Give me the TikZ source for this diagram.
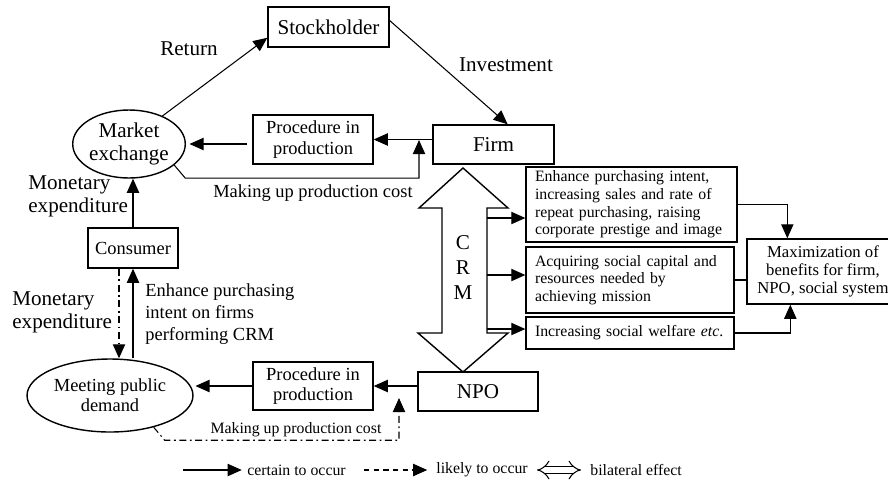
\documentclass[tikz,border=0pt]{standalone}
\usepackage{fontspec}
\setmainfont{Liberation Serif}
\usetikzlibrary{calc}
\usetikzlibrary{arrows.meta}
\usetikzlibrary{shapes.geometric}

\newcommand\fsbig{\fontsize{12}{13}\selectfont}
\newcommand\fsmid{\fontsize{10.5}{11.5}\selectfont}
\newcommand\fssmall{\fontsize{9}{10}\selectfont}

\tikzset{
  box/.style={draw, line width=0.8pt, inner sep=0pt, align=center},
  oval/.style={draw, ellipse, line width=0.8pt, inner sep=0pt, align=center},
  note/.style={draw, line width=0.8pt, inner xsep=0.18cm, inner ysep=0pt, align=left, font=\fssmall},
  lbl/.style={inner sep=0pt, align=left},
  flow/.style={line width=0.6pt, -{Triangle[length=8pt,width=7pt]}},
  likely/.style={flow, dash pattern=on 4pt off 2pt on 1pt off 2pt},
  bilat/.style={double, double distance=3.2pt, line width=0.6pt, {Implies}-{Implies}}
}

\begin{document}
\begin{tikzpicture}[x=0.02cm, y=-0.02cm, font=\fsbig]
  % Boundary
  \path[use as bounding box] (0,0) rectangle (888,481);
  % Nodes
  \node[box, minimum width=2.42cm, minimum height=0.80cm] (stock) at (328.5,27) {Stockholder};
  \node[oval, minimum width=2.24cm, minimum height=1.36cm] (market) at (129,144) {Market\\exchange};
  \node[box, minimum width=2.40cm, minimum height=0.98cm, font=\fsmid] (procA) at (313,139.5) {Procedure in\\production};
  \node[box, minimum width=2.42cm, minimum height=0.78cm] (firm) at (493.5,144.5) {Firm};
  \node[box, minimum width=1.80cm, minimum height=0.80cm, font=\fsmid] (consumer) at (133,248) {Consumer};
  \node[oval, minimum width=3.32cm, minimum height=1.46cm, font=\fsmid] (demand) at (110,395.5) {Meeting public\\demand};
  \node[box, minimum width=2.40cm, minimum height=0.96cm, font=\fsmid] (procB) at (313,386) {Procedure in\\production};
  \node[box, minimum width=2.40cm, minimum height=0.78cm] (npo) at (478,391.5) {NPO};
  % Effect boxes
  \node[note, text width=3.86cm, minimum height=1.50cm] (box1) at (631.5,204.5)
    {Enhance purchasing intent,\\increasing sales and rate of\\repeat purchasing, raising\\corporate prestige and image};
  \node[note, text width=3.80cm, minimum height=1.32cm] (box2) at (630,280)
    {Acquiring social capital and\\resources needed by\\achieving mission};
  \node[note, text width=3.80cm, minimum height=0.64cm] (box3) at (630,333)
    {Increasing social welfare \textit{etc}.};
  \node[box, minimum width=3.04cm, minimum height=1.30cm, font=\fontsize{9.5}{10.4}\selectfont] (maxb) at (823,271.5)
    {Maximization of\\benefits for firm,\\NPO, social system};
  % Labels
  \node[lbl] (ret) at (189,49) {Return};
  \node[lbl] (inv) at (506,65) {Investment};
  \node[lbl, anchor=west] (spendA) at (28,196) {Monetary\\expenditure};
  \node[lbl, anchor=west] (spendB) at (12,312) {Monetary\\expenditure};
  \node[lbl, anchor=west, font=\fontsize{10.5}{12.5}\selectfont] (enh) at (145,314) {Enhance purchasing\\intent on firms\\performing CRM};
  \node[lbl, font=\fsmid] (costA) at (313,193) {Making up production cost};
  \node[lbl, font=\fssmall] (costB) at (296,430) {Making up production cost};
  % CRM double arrow
  \filldraw[fill=white, line width=0.8pt] (463,168) -- (508,208) -- (487,208) -- (487,333) -- (508,333)
    -- (463,372) -- (418,333) -- (442,333) -- (442,208) -- (419,208) -- cycle;
  \node[lbl, align=center, font=\fontsize{12}{14}\selectfont] (crm) at (463,267.5) {C\\R\\M};
  % Connectors
  \draw[flow] (market.40) -- (stock.190);
  \draw[flow] (stock.6) -- (firm.55);
  \draw[flow] (firm.west |- procA.east) -- (procA.east);
  \draw[flow, shorten <=3pt, shorten >=2pt] (procA.west |- market.east) -- (market.east);
  \coordinate (upA) at (419,140);
  \draw[flow] (market.-25) -- ++(11,13) -| (upA);
  \draw[flow] (consumer.north) -- (consumer.north |- market.south);
  \coordinate (dashTop) at ($(consumer.south)+(-14,0)$);
  \draw[likely] (dashTop) -- (dashTop |- demand.north);
  \draw[flow] (consumer.south |- demand.north) -- (consumer.south);
  \draw[flow, shorten >=1pt] (procB.west) -- (procB.west -| demand.east);
  \draw[flow] (npo.west |- procB.east) -- (procB.east);
  \coordinate (upB) at (399,398);
  \draw[likely] (demand.-36) -- ++(11,13) -| (upB);
  \coordinate (crmR1) at (487,218);
  \coordinate (crmR2) at (487,275);
  \coordinate (crmR3) at (487,329);
  \draw[flow] (crmR1) -- (crmR1 -| box1.west);
  \draw[flow] (crmR2) -- (crmR2 -| box2.west);
  \draw[flow] (crmR3) -- (crmR3 -| box3.west);
  \draw[flow] (box1.east) -| ($(maxb.north west)+(41,0)$);
  \draw[line width=0.6pt] (box2.east) -- (box2.east -| maxb.west);
  \draw[flow] (box3.east) -| ($(maxb.south west)+(44,0)$);
  % Legend
  \node[lbl, anchor=west, font=\fssmall] (certain) at (247,470) {certain to occur};
  \node[lbl, anchor=west, font=\fssmall] (likelytxt) at (436,470) {likely to occur};
  \node[lbl, anchor=west, font=\fssmall] (bilateral) at (590,470) {bilateral effect};
  \coordinate (lgA) at (183,470);
  \coordinate (lgB) at (364,470);
  \coordinate (lgC) at (537,470);
  \coordinate (lgD) at (581,470);
  \draw[flow, shorten >=3pt] (lgA) -- (certain.west);
  \draw[flow, dash pattern=on 3pt off 2.5pt, shorten >=5pt] (lgB) -- (likelytxt.west);
  \draw[bilat] (lgC) -- (lgD);
\end{tikzpicture}
\end{document}
